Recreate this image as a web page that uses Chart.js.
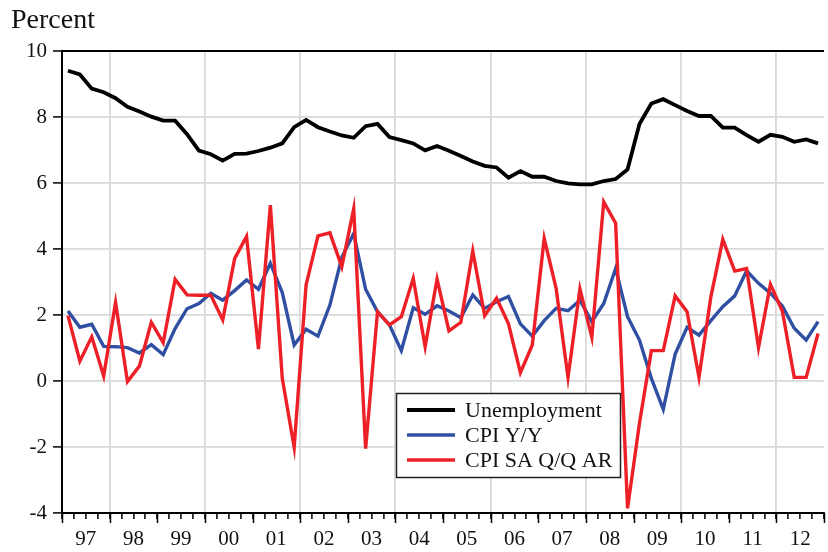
<!DOCTYPE html>
<html>
<head>
<meta charset="utf-8">
<script src="https://cdn.jsdelivr.net/npm/chart.js@4.4.1/dist/chart.umd.min.js"></script>
<style>
  html, body { margin: 0; padding: 0; overflow: hidden; background: #fff; }
  canvas { display: block; }
</style>
</head>
<body>
<canvas id="chart" width="832" height="552"></canvas>
<script>
// quarterly, 1997Q1 .. 2012Q4
const years = [1997, 1998, 1999, 2000, 2001, 2002, 2003, 2004, 2005, 2006, 2007, 2008, 2009, 2010, 2011, 2012]
const quarters = years.flatMap(y => ['Q1', 'Q2', 'Q3', 'Q4'].map(q => y + q))

const unemployment = [
  9.40, 9.29, 8.86, 8.75, 8.57, 8.31, 8.17, 8.01, 7.89, 7.89, 7.48, 6.98, 6.87, 6.68, 6.88, 6.89,
  6.97, 7.07, 7.20, 7.69, 7.91, 7.69, 7.56, 7.44, 7.37, 7.72, 7.79, 7.39, 7.30, 7.20, 6.99, 7.12,
  6.98, 6.82, 6.65, 6.52, 6.47, 6.16, 6.36, 6.19, 6.19, 6.06, 5.99, 5.96, 5.96, 6.06, 6.12, 6.41,
  7.79, 8.41, 8.54, 8.36, 8.18, 8.03, 8.03, 7.68, 7.68, 7.45, 7.25, 7.46, 7.40, 7.25, 7.32, 7.20
]
const cpiYoY = [
  2.12, 1.63, 1.72, 1.05, 1.04, 1.01, 0.85, 1.10, 0.80, 1.59, 2.19, 2.35, 2.66, 2.45, 2.74, 3.06,
  2.78, 3.57, 2.68, 1.09, 1.57, 1.36, 2.30, 3.75, 4.47, 2.78, 2.10, 1.70, 0.92, 2.22, 2.02, 2.28,
  2.12, 1.92, 2.61, 2.20, 2.40, 2.56, 1.73, 1.36, 1.83, 2.20, 2.13, 2.45, 1.80, 2.35, 3.41, 1.95,
  1.24, 0.08, -0.86, 0.82, 1.63, 1.39, 1.83, 2.25, 2.58, 3.34, 2.96, 2.66, 2.27, 1.60, 1.24, 1.80
]
const cpiQoQ = [
  1.98, 0.60, 1.34, 0.15, 2.38, -0.02, 0.45, 1.78, 1.16, 3.08, 2.61, 2.60, 2.60, 1.85, 3.71, 4.38,
  0.97, 5.33, 0.08, -2.01, 2.91, 4.40, 4.49, 3.46, 5.22, -2.05, 2.10, 1.70, 1.95, 3.11, 1.04, 3.09,
  1.52, 1.78, 3.94, 1.98, 2.51, 1.73, 0.25, 1.09, 4.32, 2.81, 0.11, 2.79, 1.32, 5.43, 4.78, -3.86,
  -1.28, 0.92, 0.92, 2.58, 2.10, 0.11, 2.55, 4.29, 3.33, 3.41, 1.01, 2.93, 2.12, 0.11, 0.11, 1.44
]
const yTicks = [-4, -2, 0, 2, 4, 6, 8, 10]

const FONT = '"Liberation Serif", "Times New Roman", serif'

// quarter '1997Q3' -> middle of that quarter on a year scale
function qx(label) {
  return +label.slice(0, 4) + (+label.slice(5) - 0.5) / 4
}
function series(values) {
  return values.map((v, i) => ({ x: qx(quarters[i]), y: v }))
}

const firstYear = years[0]
const lastYear = years[years.length - 1] + 1
const quarterTicks = []
for (let i = 0; i <= years.length * 4; i++) quarterTicks.push(firstYear + i / 4)

const datasets = [
  { label: 'Unemployment', data: series(unemployment), borderColor: '#000000', borderWidth: 3.8, order: 2 },
  { label: 'CPI Y/Y', data: series(cpiYoY), borderColor: '#2f4fa2', borderWidth: 3.4, order: 1 },
  { label: 'CPI SA Q/Q AR', data: series(cpiQoQ), borderColor: '#ee2027', borderWidth: 3.4, order: 0 },
]

// longer tick marks at year boundaries, the "Percent" caption and the boxed legend
const extras = {
  id: 'extras',
  afterDraw(chart) {
    const ctx = chart.ctx
    const x = chart.scales.x
    const area = chart.chartArea
    ctx.save()
    ctx.strokeStyle = '#000'
    ctx.lineWidth = 1.5
    years.concat([lastYear]).forEach(y => {
      const px = Math.round(x.getPixelForValue(y)) + 0.5
      ctx.beginPath()
      ctx.moveTo(px, area.bottom)
      ctx.lineTo(px, area.bottom + 10)
      ctx.stroke()
    })

    ctx.fillStyle = '#111'
    ctx.font = '28px ' + FONT
    ctx.textBaseline = 'alphabetic'
    ctx.fillText('Percent', 11, 28)

    // legend
    const lx = 396.5, ly = 393.5, lw = 224, lh = 84
    ctx.fillStyle = '#fff'
    ctx.fillRect(lx, ly, lw, lh)
    ctx.strokeStyle = '#222'
    ctx.lineWidth = 1.5
    ctx.strokeRect(lx, ly, lw, lh)
    ctx.font = '22px ' + FONT
    chart.data.datasets.forEach((ds, i) => {
      const ry = 410 + i * 25
      ctx.strokeStyle = ds.borderColor
      ctx.lineWidth = ds.borderWidth
      ctx.beginPath()
      ctx.moveTo(407, ry)
      ctx.lineTo(455, ry)
      ctx.stroke()
      ctx.fillStyle = '#111'
      ctx.fillText(ds.label, 465, ry + 7)
    })
    ctx.restore()
  }
}

new Chart(document.getElementById('chart'), {
  type: 'line',
  data: { datasets },
  options: {
    responsive: false,
    animation: false,
    devicePixelRatio: 1,
    layout: { padding: { top: 51, left: 0, right: 0, bottom: 0 } },
    elements: {
      line: { tension: 0, fill: false, borderCapStyle: 'butt', borderJoinStyle: 'miter' },
      point: { radius: 0, hoverRadius: 0 }
    },
    plugins: { legend: { display: false }, tooltip: { enabled: false } },
    scales: {
      x: {
        type: 'linear',
        min: firstYear,
        max: lastYear,
        afterBuildTicks: s => { s.ticks = quarterTicks.map(v => ({ value: v })) },
        afterFit: s => { s.height = 39 },
        border: { display: true, color: '#000', width: 2 },
        grid: {
          color: c => {
            const v = c.tick && c.tick.value
            return (Number.isInteger(v) && v % 2 === 0 && v > firstYear && v < lastYear) ? '#d9d9d9' : 'rgba(0,0,0,0)'
          },
          lineWidth: 1.8,
          drawTicks: true,
          tickLength: 6,
          tickColor: '#000',
          tickWidth: 1.5
        },
        ticks: {
          autoSkip: false,
          maxRotation: 0,
          padding: 8,
          color: '#111',
          font: { family: FONT, size: 21 },
          callback: v => (Math.abs(v % 1 - 0.5) < 1e-6 && v < lastYear) ? String(Math.floor(v)).slice(2) : ''
        }
      },
      y: {
        min: -4,
        max: 10,
        afterBuildTicks: s => { s.ticks = yTicks.map(v => ({ value: v })) },
        afterFit: s => { s.width = 62 },
        border: { display: true, color: '#000', width: 2 },
        grid: {
          color: c => (c.tick && c.tick.value === 10) ? '#000' : '#d9d9d9',
          lineWidth: c => (c.tick && c.tick.value === 10) ? 2 : 1.8,
          drawTicks: true,
          tickLength: 9,
          tickColor: '#000',
          tickWidth: 1.5
        },
        ticks: {
          padding: 6,
          color: '#111',
          font: { family: FONT, size: 21 }
        }
      }
    }
  },
  plugins: [extras]
})
</script>
</body>
</html>
